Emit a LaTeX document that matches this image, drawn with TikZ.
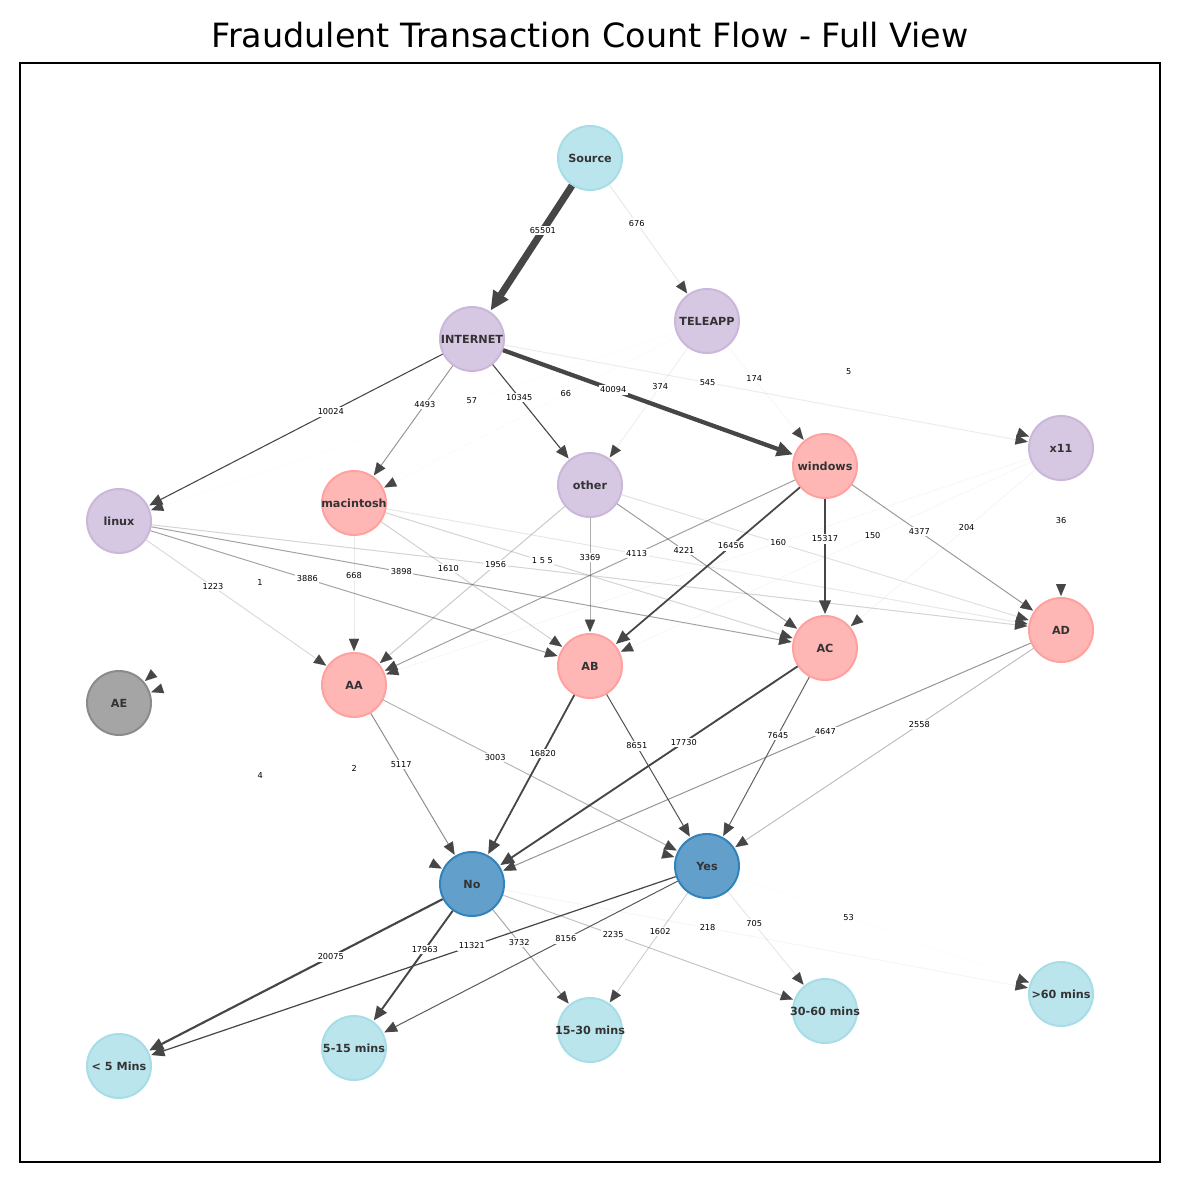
\documentclass[tikz,border=0pt]{standalone}
\usepackage{fontspec}
\setmainfont{DejaVu Sans}
\usetikzlibrary{arrows.meta,calc}

\definecolor{skyfill}{HTML}{BBE5ED}
\definecolor{skyring}{HTML}{A7DDE7}
\definecolor{lilacfill}{HTML}{D6C8E2}
\definecolor{lilacring}{HTML}{CAB7D9}
\definecolor{rosefill}{HTML}{FFB7B6}
\definecolor{rosering}{HTML}{FFA19F}
\definecolor{ashfill}{HTML}{A5A5A5}
\definecolor{ashring}{HTML}{8B8B8B}
\definecolor{bluefill}{HTML}{62A0CB}
\definecolor{bluering}{HTML}{3383BB}
\definecolor{flowgray}{HTML}{464646}
\definecolor{nametext}{HTML}{333333}

\tikzset{
	state/.style={circle, minimum size=32pt, inner sep=0pt, line width=1pt,
		font=\fontsize{5.6}{6}\selectfont\bfseries, text=nametext,
		execute at begin node={\hbox to 0pt\bgroup\hss},
		execute at end node={\hss\egroup}},
	sky/.style={state, fill=skyfill, draw=skyring},
	lilac/.style={state, fill=lilacfill, draw=lilacring},
	rose/.style={state, fill=rosefill, draw=rosering},
	ash/.style={state, fill=ashfill, draw=ashring},
	outcome/.style={state, fill=bluefill, draw=bluering},
	flowline/.style={draw=flowgray, line cap=butt},
	flowtip/.style={draw=flowgray, -{Triangle[length=6pt 1, width=5pt 1]}},
	countlabel/.style={fill=white, inner sep=0.8pt, font=\fontsize{4.1}{4.5}\selectfont},
}

% from/to/count in thousands/label
\def\flows{Source/INTERNET/65.501/65501, Source/TELEAPP/0.676/676,
	INTERNET/linux/10.024/10024, INTERNET/macintosh/4.493/4493,
	INTERNET/other/10.345/10345, INTERNET/windows/40.094/40094,
	INTERNET/x11/0.545/545,
	TELEAPP/linux/0.057/57, TELEAPP/macintosh/0.066/66, TELEAPP/other/0.374/374,
	TELEAPP/windows/0.174/174, TELEAPP/x11/0.005/5,
	linux/AA/1.223/1223, linux/AB/3.886/3886, linux/AC/3.898/3898, linux/AD/1.5/,
	macintosh/AE/0.001/1, macintosh/AA/0.668/668, macintosh/AB/1.610/1610,
	macintosh/AC/1.5/1 5 5, macintosh/AD/0.7/,
	other/AA/1.956/1956, other/AB/3.369/3369, other/AC/4.221/4221, other/AD/1.0/,
	windows/AE/0.005/, windows/AA/4.113/4113, windows/AB/16.456/16456,
	windows/AC/15.317/15317, windows/AD/4.377/4377,
	x11/AA/0.160/160, x11/AB/0.150/150, x11/AC/0.204/204, x11/AD/0.036/36,
	AA/No/5.117/5117, AA/Yes/3.003/3003, AB/No/16.820/16820, AB/Yes/8.651/8651,
	AC/No/17.730/17730, AC/Yes/7.645/7645, AD/No/4.647/4647, AD/Yes/2.558/2558,
	AE/No/0.004/4, AE/Yes/0.002/2,
	No/lt5/20.075/20075, No/m515/17.963/17963, Yes/lt5/11.321/11321,
	No/m1530/3.732/3732, Yes/m515/8.156/8156, No/m3060/2.235/2235,
	Yes/m1530/1.602/1602, No/g60/0.218/218, Yes/m3060/0.705/705, Yes/g60/0.053/53}

\begin{document}
\begin{tikzpicture}[x=0.5pt, y=-0.5pt]
	\useasboundingbox (0,0) rectangle (1180,1182);
	\node[font=\fontsize{16.7}{19}\selectfont] (head) at (590,35) {Fraudulent Transaction Count Flow - Full View};
	\draw[line width=0.75pt] (20,63) rectangle (1160,1162);

	% layers, top to bottom
	\node[sky] (Source) at (590,158) {Source};
	\node[lilac] (TELEAPP) at (707,321) {TELEAPP};
	\node[lilac] (INTERNET) at (472,339) {INTERNET};
	\node[lilac] (x11) at (1061,448) {x11};
	\node[rose] (windows) at (825,466) {windows};
	\node[lilac] (other) at (590,485) {other};
	\node[rose] (macintosh) at (354,503) {macintosh};
	\node[lilac] (linux) at (119,521) {linux};
	\node[rose] (AD) at (1061,630) {AD};
	\node[rose] (AC) at (825,648) {AC};
	\node[rose] (AB) at (590,666) {AB};
	\node[rose] (AA) at (354,685) {AA};
	\node[ash] (AE) at (119,703) {AE};
	\node[outcome] (Yes) at (707,866) {Yes};
	\node[outcome] (No) at (472,884) {No};
	\node[sky] (g60) at (1061,994) {>60 mins};
	\node[sky] (m3060) at (825,1011) {30-60 mins};
	\node[sky] (m1530) at (590,1030) {15-30 mins};
	\node[sky] (m515) at (354,1048) {5-15 mins};
	\node[sky] (lt5) at (119,1066) {< 5 Mins};

	% edges: width and shade from the count
	\foreach \src/\dst/\kc/\lab in \flows {
		\pgfmathsetmacro{\flw}{3.5*\kc/65.501}
		\pgfmathsetmacro{\fpw}{max(\flw,0.5)}
		\pgfmathsetmacro{\fop}{min(1,(max(2*\flw,0.001))^0.8)}
		\pgfmathsetlengthmacro{\fsa}{23pt+\flw pt}
		\draw[flowline, line width=\fpw pt, draw opacity=\fop] (\src) -- ($(\dst)!\fsa!(\src)$);
		\draw[flowtip, line width=\flw pt] ($(\dst)!\fsa!(\src)$) -- ($(\dst)!17pt!(\src)$);
	}
	% counts at 0.4 of each edge
	\foreach \src/\dst/\kc/\lab in \flows {
		\ifx\lab\empty\else
			\node[countlabel] at ($(\src)!0.4!(\dst)$) {\lab};
		\fi
	}
\end{tikzpicture}
\end{document}
